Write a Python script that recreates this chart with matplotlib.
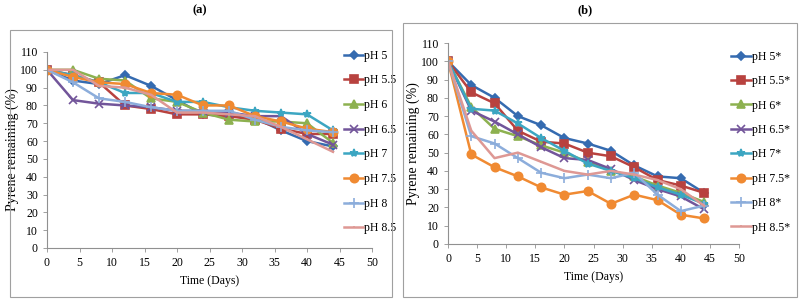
import matplotlib.pyplot as plt
from matplotlib.patches import Rectangle

days = [0, 4, 8, 12, 16, 20, 24, 28, 32, 36, 40, 44]

# panel (a)
labels_a = ['pH 5', 'pH 5.5', 'pH 6', 'pH 6.5', 'pH 7', 'pH 7.5', 'pH 8', 'pH 8.5']
ph5 = [100, 94, 92, 97, 91, 83, 75, 74, 73, 66, 60, 57]
ph55 = [100, 97, 93, 80, 78, 75, 75, 74, 72, 67, 64, 64]
ph6 = [100, 100, 95, 94, 84, 82, 76, 72, 71, 71, 70, 59]
ph65 = [100, 83, 81, 80, 79, 77, 77, 76, 74, 74, 64, 58]
ph7 = [100, 97, 93, 87, 87, 82, 82, 79, 77, 76, 75, 66]
ph75 = [100, 96, 93, 92, 87, 86, 80, 80, 74, 71, 67, 65]
ph8 = [100, 93, 84, 82, 79, 77, 77, 77, 72, 68, 66, 65]
ph85 = [100, 100, 91, 90, 86, 76, 76, 75, 74, 68, 61, 54]

# panel (b)
labels_b = ['pH 5*', 'pH 5.5*', 'pH 6*', 'pH 6.5*', 'pH 7*', 'pH 7.5*', 'pH 8*', 'pH 8.5*']
ph5s = [100, 87, 80, 70, 65, 58, 55, 51, 43, 37, 36, 28]
ph55s = [100, 83, 77, 62, 56, 55, 50, 48, 42, 35, 32, 28]
ph6s = [100, 75, 63, 59, 54, 50, 45, 40, 37, 32, 28, 23]
ph65s = [100, 73, 67, 60, 53, 47, 46, 41, 35, 30, 26, 19]
ph7s = [100, 74, 73, 66, 58, 51, 44, 40, 36, 31, 27, 22]
ph75s = [100, 49, 42, 37, 31, 27, 29, 22, 27, 24, 16, 14]
ph8s = [100, 59, 55, 47, 39, 36, 38, 36, 39, 27, 18, 21]
ph85s = [100, 62, 47, 50, 45, 40, 38, 40, 38, 35, 30, 21]

colors = ['#356BB0', '#B8423F', '#8DB150', '#72559A', '#3CA6C2', '#F08A32', '#8CADDB', '#DE9894']
markers = ['D', 's', '^', 'x', '*', 'o', '+', '_']
msizes = [4, 6, 6, 6, 6, 6, 7, 1]

plt.rcParams['font.family'] = 'Liberation Serif'

fig = plt.figure(figsize=(8, 3), dpi=100)

# grey frames round each panel
fig.patches.append(Rectangle((10 / 800, 1 - 297 / 300), 382 / 800, 267 / 300,
                             transform=fig.transFigure, fill=False, ec='#a0a0a0', lw=0.8))
fig.patches.append(Rectangle((403 / 800, 1 - 297 / 300), 394 / 800, 274 / 300,
                             transform=fig.transFigure, fill=False, ec='#a0a0a0', lw=0.8))

fig.text(200 / 800, 1 - 10 / 300, '(a)', ha='center', va='center', fontsize=9, fontweight='bold')
fig.text(585 / 800, 1 - 10 / 300, '(b)', ha='center', va='center', fontsize=9, fontweight='bold')

ax1 = fig.add_axes([47 / 800, 1 - 248 / 300, 325 / 800, 196 / 300])
ax2 = fig.add_axes([448 / 800, 1 - 244 / 300, 291 / 800, 201 / 300])

series_a = [ph5, ph55, ph6, ph65, ph7, ph75, ph8, ph85]
series_b = [ph5s, ph55s, ph6s, ph65s, ph7s, ph75s, ph8s, ph85s]

for ax, series, labels in [(ax1, series_a, labels_a), (ax2, series_b, labels_b)]:
    for vals, lab, c, m, ms in zip(series, labels, colors, markers, msizes):
        ax.plot(days, vals, color=c, marker=m, markersize=ms, lw=1.8, label=lab,
                markeredgewidth=1.2)
    ax.set_xlim(0, 50)
    ax.set_ylim(0, 110)
    ax.set_xticks(range(0, 51, 5))
    ax.set_yticks(range(0, 111, 10))
    for s in ['top', 'right']:
        ax.spines[s].set_visible(False)
    for s in ['left', 'bottom']:
        ax.spines[s].set_color('#909090')
        ax.spines[s].set_linewidth(0.8)
    ax.tick_params(colors='#909090', labelcolor='black', labelsize=8.5, length=3, width=0.6)
    ax.set_ylabel('Pyrene remaining (%)', fontsize=10, labelpad=1)
    ax.set_xlabel('Time (Days)', fontsize=8.5, labelpad=4)

leg1 = ax1.legend(loc='upper left', bbox_to_anchor=(0.9, 1.035), frameon=False, fontsize=8.5,
                  handlelength=1.6, handletextpad=0.1, labelspacing=1.07, borderaxespad=0)
leg2 = ax2.legend(loc='upper left', bbox_to_anchor=(0.955, 0.985), frameon=False, fontsize=8.5,
                  handlelength=1.7, handletextpad=0.1, labelspacing=1.05, borderaxespad=0)

fig.savefig('out.png', dpi=100)
